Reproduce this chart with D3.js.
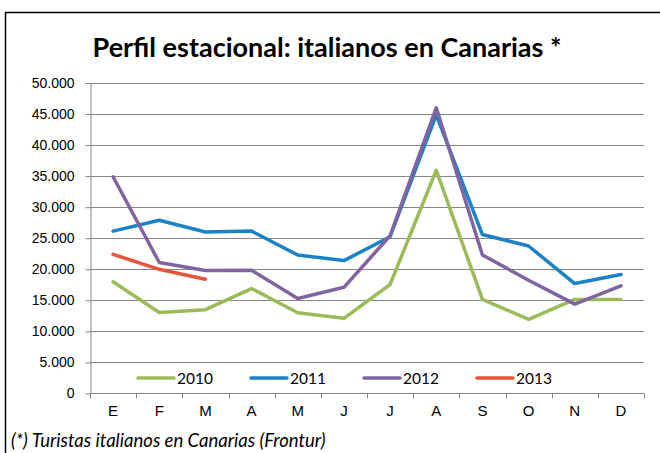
<!DOCTYPE html>
<html>
<head>
<meta charset="utf-8">
<script src="https://cdn.jsdelivr.net/npm/d3@7"></script>
<style>
  body { margin: 0; background: #fff; }
  svg { display: block; font-family: Lato, "Open Sans", sans-serif; }
  .axis text { font-size: 14px; fill: #000; }
  .axis path, .axis line { stroke: #868686; }
</style>
</head>
<body>
<svg id="chart" width="660" height="453"></svg>
<script>
const width = 660;
const height = 453;

/* DATA */
const months = ["E", "F", "M", "A", "M", "J", "J", "A", "S", "O", "N", "D"];
const years = ["2010", "2011", "2012", "2013"];
const colors = ["#9BBB59", "#1A83C8", "#8064A2", "#E8533C"];

const values2010 = [18000, 13050, 13500, 16900, 13000, 12100, 17550, 35950, 15150, 11950, 15150, 15150];
const values2011 = [26150, 27900, 26000, 26150, 22300, 21400, 25250, 44850, 25600, 23750, 17700, 19150];
const values2012 = [34900, 21100, 19800, 19850, 15300, 17100, 25400, 46000, 22300, 18250, 14400, 17350];
const values2013 = [22400, 20000, 18400];

const yTicks = [0, 5000, 10000, 15000, 20000, 25000, 30000, 35000, 40000, 45000, 50000];

const series = [values2010, values2011, values2012, values2013].map((v, i) => ({
  year: years[i],
  color: colors[i],
  values: v
}));

const margin = { top: 83, bottom: 60, left: 90, right: 16 };

const svg = d3.select("svg#chart");

/* FRAME */
svg.append("rect")
  .attr("x", 5.5)
  .attr("y", 12.5)
  .attr("width", width)
  .attr("height", height)
  .attr("fill", "none")
  .attr("stroke", "#000")
  .attr("stroke-width", 1.5);

/* SCALES */
const x = d3.scaleBand()
  .domain(d3.range(months.length))
  .range([margin.left, width - margin.right]);

const y = d3.scaleLinear()
  .domain([0, 50000])
  .range([393.5, margin.top]);

const fmt = d => d3.format(",")(d).replace(/,/g, ".");

/* GRID */
svg.append("g")
  .selectAll("line")
  .data(yTicks.slice(1))
  .join("line")
  .attr("x1", x.range()[0])
  .attr("x2", x.range()[1])
  .attr("y1", d => Math.round(y(d)) + 0.5)
  .attr("y2", d => Math.round(y(d)) + 0.5)
  .attr("stroke", "#868686")
  .attr("stroke-width", 1);

/* AXES */
const yAxis = d3.axisLeft(y).tickValues(yTicks).tickFormat(fmt).tickSize(5).tickSizeOuter(0).tickPadding(11);
svg.append("g")
  .attr("class", "axis")
  .attr("transform", translate(x.range()[0] + 0.5, 0))
  .call(yAxis);

const xAxis = d3.axisBottom(x).tickFormat(i => months[i]).tickSize(0).tickPadding(12);
const xGroup = svg.append("g")
  .attr("class", "axis")
  .attr("transform", translate(0, 393.5))
  .call(xAxis);
xGroup.select(".domain").remove();
xGroup.selectAll("text").style("font-size", "15px");
xGroup.append("line")
  .attr("x1", x.range()[0]).attr("x2", x.range()[1])
  .attr("stroke", "#868686");

// tick marks between the months
xGroup.selectAll("line.sep")
  .data(d3.range(months.length + 1))
  .join("line")
  .attr("class", "sep")
  .attr("x1", i => Math.round(x.range()[0] + i * x.step()) + 0.5)
  .attr("x2", i => Math.round(x.range()[0] + i * x.step()) + 0.5)
  .attr("y1", 0)
  .attr("y2", 5)
  .attr("stroke", "#868686");

/* LINES */
const line = d3.line()
  .x((d, i) => x(i) + x.bandwidth() / 2)
  .y(d => y(d));

svg.append("g")
  .selectAll("path")
  .data(series)
  .join("path")
  .attr("d", d => line(d.values))
  .attr("fill", "none")
  .attr("stroke", d => d.color)
  .attr("stroke-width", 3.5)
  .attr("stroke-linejoin", "round")
  .attr("stroke-linecap", "round");

/* LEGEND */
const legend = svg.append("g")
  .attr("transform", translate(138, 378));

const items = legend.selectAll("g")
  .data(series)
  .join("g")
  .attr("transform", (d, i) => translate(i * 113, 0));

items.append("line")
  .attr("x1", 0).attr("x2", 36)
  .attr("stroke", d => d.color)
  .attr("stroke-width", 3.5)
  .attr("stroke-linecap", "round");

items.append("text")
  .attr("x", 39)
  .attr("dy", "0.36em")
  .style("font-size", "15.5px")
  .text(d => d.year);

/* TITLES */
svg.append("text")
  .attr("x", 327)
  .attr("y", 57)
  .attr("text-anchor", "middle")
  .style("font-size", "27px")
  .style("font-weight", "bold")
  .text("Perfil estacional: italianos en Canarias *");

svg.append("text")
  .attr("x", 11)
  .attr("y", 446.5)
  .style("font-size", "18.5px")
  .style("font-style", "italic")
  .text("(*) Turistas italianos en Canarias (Frontur)");

function translate(x, y) {
  return 'translate(' + String(x) + ',' + String(y) + ')';
}
</script>
</body>
</html>
